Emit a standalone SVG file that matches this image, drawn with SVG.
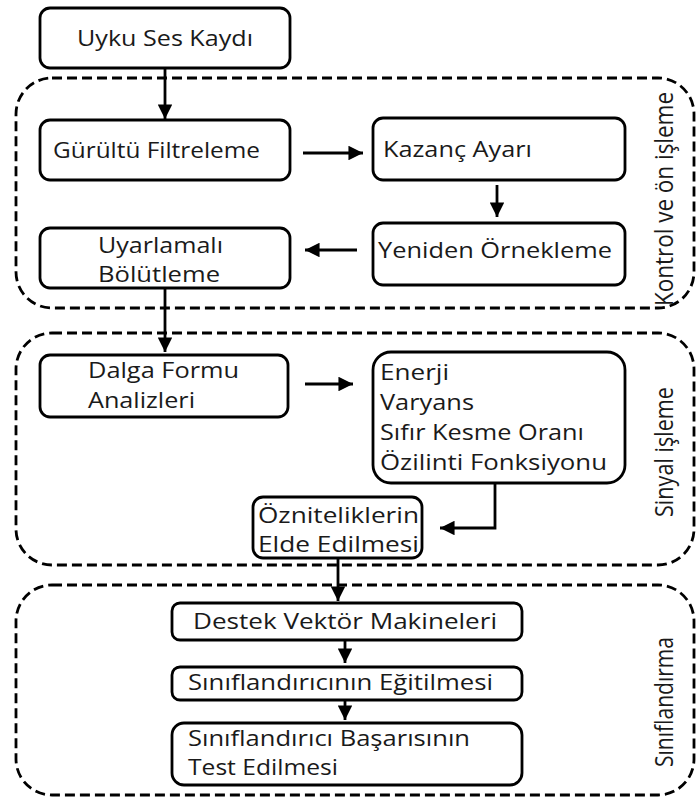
<svg xmlns="http://www.w3.org/2000/svg" width="697" height="798" viewBox="0 0 697 798">
<style>
.bg{fill:#fff}
.box{fill:#fff;stroke:#000;stroke-width:2.8}
.grp{fill:none;stroke:#000;stroke-width:2.8;stroke-dasharray:10 5}
.t{font-family:"Open Sans","Noto Sans","DejaVu Sans",sans-serif;font-size:22.5px;fill:#1a1a1a}
.side{font-family:"Open Sans","Noto Sans","DejaVu Sans",sans-serif;font-size:25px;fill:#1a1a1a}
.c{fill:none;stroke:#000;stroke-width:2.8}
</style>
<defs>
<marker id="ah" viewBox="0 0 10 10" refX="10" refY="5" markerWidth="5.2" markerHeight="5.2" markerUnits="strokeWidth" orient="auto">
<path d="M0,0 L10,5 L0,10 z" fill="#000"/>
</marker>
</defs>
<rect class="bg" x="0" y="0" width="697" height="798"/>
<g id="groups">
<rect id="grp-kontrol" class="grp" x="16" y="78" width="678" height="230" rx="36"/>
<rect id="grp-sinyal" class="grp" x="16" y="333" width="678" height="232" rx="36"/>
<rect id="grp-siniflandirma" class="grp" x="16" y="585" width="678" height="210" rx="36"/>
</g>
<g id="labels">
<text class="side" transform="translate(673,199) rotate(-90)" text-anchor="middle" textLength="214" lengthAdjust="spacingAndGlyphs">Kontrol ve ön işleme</text>
<text class="side" transform="translate(673,452) rotate(-90)" text-anchor="middle" textLength="130" lengthAdjust="spacingAndGlyphs">Sinyal işleme</text>
<text class="side" transform="translate(673,702) rotate(-90)" text-anchor="middle" textLength="130" lengthAdjust="spacingAndGlyphs">Sınıflandırma</text>
</g>
<g id="connectors">
<line class="c" x1="165" y1="68" x2="165" y2="119" marker-end="url(#ah)"/>
<line class="c" x1="303" y1="153" x2="363" y2="153" marker-end="url(#ah)"/>
<line class="c" x1="497" y1="185" x2="497" y2="217" marker-end="url(#ah)"/>
<line class="c" x1="357" y1="250" x2="305" y2="250" marker-end="url(#ah)"/>
<line class="c" x1="165" y1="288" x2="165" y2="352" marker-end="url(#ah)"/>
<line class="c" x1="305" y1="384" x2="353" y2="384" marker-end="url(#ah)"/>
<polyline class="c" points="495,483 495,528 440,528" marker-end="url(#ah)"/>
<line class="c" x1="338" y1="558" x2="338" y2="601" marker-end="url(#ah)"/>
<line class="c" x1="345" y1="640" x2="345" y2="663" marker-end="url(#ah)"/>
<line class="c" x1="345" y1="700" x2="345" y2="720" marker-end="url(#ah)"/>
</g>
<g id="uyku">
<rect class="box" x="40" y="8" width="250" height="60" rx="10"/>
<text class="t" x="165" y="46" text-anchor="middle" textLength="176" lengthAdjust="spacingAndGlyphs">Uyku Ses Kaydı</text>
</g>
<g id="gurultu">
<rect class="box" x="40" y="120" width="250" height="60" rx="10"/>
<text class="t" x="53" y="158" textLength="207" lengthAdjust="spacingAndGlyphs">Gürültü Filtreleme</text>
</g>
<g id="kazanc">
<rect class="box" x="373" y="118" width="252" height="62" rx="10"/>
<text class="t" x="383" y="157" textLength="149" lengthAdjust="spacingAndGlyphs">Kazanç Ayarı</text>
</g>
<g id="yeniden">
<rect class="box" x="373" y="223" width="252" height="62" rx="10"/>
<text class="t" x="378" y="258" textLength="234" lengthAdjust="spacingAndGlyphs">Yeniden Örnekleme</text>
</g>
<g id="uyarlamali">
<rect class="box" x="40" y="228" width="250" height="60" rx="10"/>
<text class="t" x="98" y="253" textLength="125" lengthAdjust="spacingAndGlyphs">Uyarlamalı</text>
<text class="t" x="98" y="282" textLength="122" lengthAdjust="spacingAndGlyphs">Bölütleme</text>
</g>
<g id="dalga">
<rect class="box" x="40" y="355" width="248" height="62" rx="10"/>
<text class="t" x="88" y="378" textLength="151" lengthAdjust="spacingAndGlyphs">Dalga Formu</text>
<text class="t" x="88" y="408" textLength="107" lengthAdjust="spacingAndGlyphs">Analizleri</text>
</g>
<g id="ozellikler">
<rect class="box" x="373" y="352" width="252" height="131" rx="18"/>
<text class="t" x="380" y="380" textLength="69" lengthAdjust="spacingAndGlyphs">Enerji</text>
<text class="t" x="380" y="410" textLength="94" lengthAdjust="spacingAndGlyphs">Varyans</text>
<text class="t" x="380" y="440" textLength="204" lengthAdjust="spacingAndGlyphs">Sıfır Kesme Oranı</text>
<text class="t" x="380" y="470" textLength="227" lengthAdjust="spacingAndGlyphs">Özilinti Fonksiyonu</text>
</g>
<g id="oznitelik">
<rect class="box" x="253" y="497" width="169" height="61" rx="10"/>
<text class="t" x="258" y="523" textLength="161" lengthAdjust="spacingAndGlyphs">Özniteliklerin</text>
<text class="t" x="258" y="552" textLength="161" lengthAdjust="spacingAndGlyphs">Elde Edilmesi</text>
</g>
<g id="destek">
<rect class="box" x="172" y="603" width="350" height="37" rx="8"/>
<text class="t" x="193" y="629" textLength="304" lengthAdjust="spacingAndGlyphs">Destek Vektör Makineleri</text>
</g>
<g id="egitim">
<rect class="box" x="172" y="667" width="350" height="33" rx="8"/>
<text class="t" x="188" y="690" textLength="305" lengthAdjust="spacingAndGlyphs">Sınıflandırıcının Eğitilmesi</text>
</g>
<g id="test">
<rect class="box" x="172" y="723" width="350" height="62" rx="12"/>
<text class="t" x="188" y="746" textLength="282" lengthAdjust="spacingAndGlyphs">Sınıflandırıcı Başarısının</text>
<text class="t" x="188" y="775" textLength="150" lengthAdjust="spacingAndGlyphs">Test Edilmesi</text>
</g>
</svg>
